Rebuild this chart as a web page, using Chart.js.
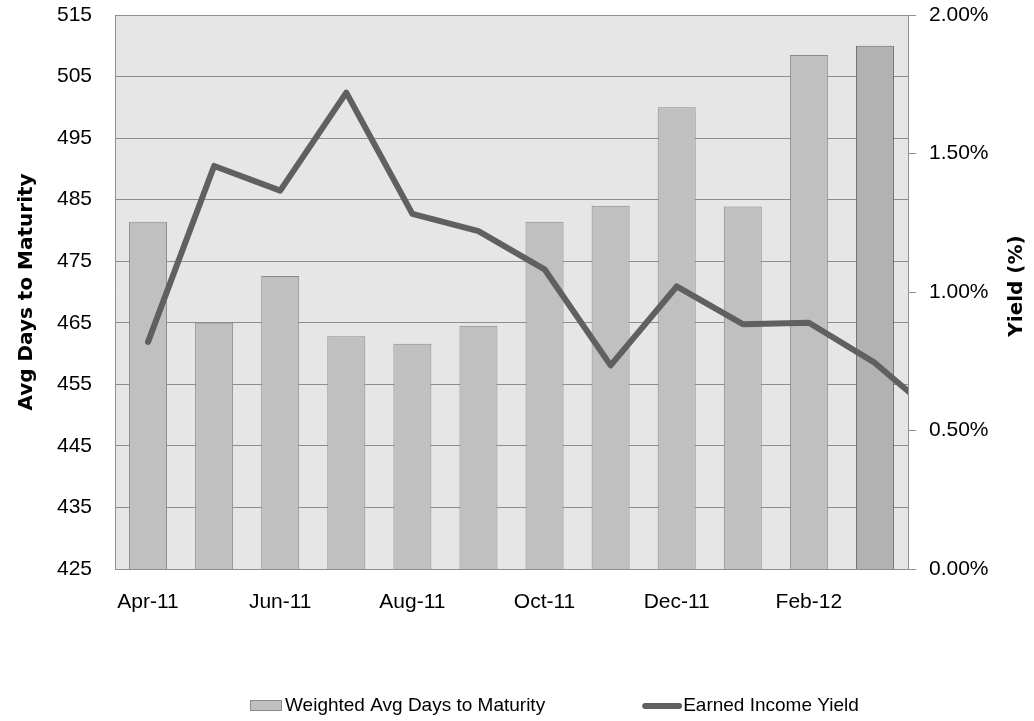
<!DOCTYPE html>
<html>
<head>
<meta charset="utf-8">
<script src="https://cdn.jsdelivr.net/npm/chart.js@4.4.1/dist/chart.umd.min.js"></script>
<style>
  html, body { margin: 0; padding: 0; background: #fff; }
  #wrap { width: 1034px; height: 721px; }
</style>
</head>
<body>
<div id="wrap"><canvas id="chart" width="1034" height="721"></canvas></div>
<script>
// months shown as bars
const categories = ['Apr-11', 'May-11', 'Jun-11', 'Jul-11', 'Aug-11', 'Sep-11',
                    'Oct-11', 'Nov-11', 'Dec-11', 'Jan-12', 'Feb-12', 'Mar-12'];
// weighted average days to maturity
const avgDays = [481.4, 465.0, 472.6, 462.8, 461.6, 464.5, 481.4, 484.0, 500.0, 483.9, 508.5, 510.0];
// earned income yield (%), the last one (Apr-12) runs past the plot edge and is clipped
const yieldMonths = categories.concat(['Apr-12']);
const yieldPct = [0.82, 1.455, 1.366, 1.72, 1.282, 1.22, 1.082, 0.735, 1.02, 0.884, 0.889, 0.744, 0.54];

const daysTicks = { min: 425, max: 515, step: 10 };
const yieldTicks = { min: 0, max: 2, step: 0.5 };

const gridGrey = '#8e8e8e';
const barFill = avgDays.map((v, i) => i === avgDays.length - 1 ? '#b2b2b2' : '#c0c0c0');
const barEdge = avgDays.map((v, i) => i === avgDays.length - 1 ? '#6a6a6a' : '#8a8a8a');
const lineGrey = '#606060';

const tickFont = { family: "'Liberation Sans', Arial, sans-serif", size: 21 };
const titleFont = { family: "'DejaVu Sans', sans-serif", size: 20, weight: 'bold' };

// grey plot background
const plotBg = {
  id: 'plotBg',
  beforeDraw(chart) {
    const a = chart.chartArea, ctx = chart.ctx;
    ctx.save();
    ctx.fillStyle = '#e6e6e6';
    ctx.fillRect(a.left, a.top, a.right - a.left, a.bottom - a.top);
    ctx.restore();
  }
};

// right title reads bottom-to-top like the left one, plus the legend row
const extras = {
  id: 'extras',
  afterDraw(chart) {
    const ctx = chart.ctx;
    const a = chart.chartArea;
    ctx.save();
    ctx.fillStyle = '#000';
    ctx.font = "bold 20px 'DejaVu Sans', sans-serif";
    ctx.textAlign = 'center';
    ctx.textBaseline = 'middle';
    ctx.translate(1017, (a.top + a.bottom) / 2 - 6);
    ctx.rotate(-Math.PI / 2);
    ctx.fillText('Yield (%)', 0, 0);
    ctx.restore();

    const ds = chart.data.datasets;
    const y = 706;
    ctx.save();
    ctx.font = "19px 'Liberation Sans', Arial, sans-serif";
    ctx.textBaseline = 'middle';
    let x = 250;
    // bar item
    ctx.fillStyle = '#c0c0c0';
    ctx.strokeStyle = '#8a8a8a';
    ctx.lineWidth = 1;
    ctx.fillRect(x, y - 6, 32, 11);
    ctx.strokeRect(x + 0.5, y - 5.5, 31, 10);
    x += 35;
    ctx.fillStyle = '#000';
    ctx.fillText(ds[0].label, x, y);
    x += ctx.measureText(ds[0].label).width + 97;
    // line item
    ctx.strokeStyle = lineGrey;
    ctx.lineWidth = 6;
    ctx.lineCap = 'round';
    ctx.beginPath();
    ctx.moveTo(x + 3, y);
    ctx.lineTo(x + 37, y);
    ctx.stroke();
    x += 41;
    ctx.fillText(ds[1].label, x, y);
    ctx.restore();
  }
};

new Chart(document.getElementById('chart'), {
  data: {
    labels: categories,
    datasets: [{
      type: 'bar',
      label: 'Weighted Avg Days to Maturity',
      data: avgDays,
      backgroundColor: barFill,
      borderColor: barEdge,
      borderWidth: 1,
      borderSkipped: false,
      grouped: false,
      categoryPercentage: 1,
      barPercentage: 0.575,
      xAxisID: 'x',
      yAxisID: 'y',
      order: 1
    }, {
      type: 'line',
      label: 'Earned Income Yield',
      data: yieldPct.map((v, i) => ({ x: i, y: v, month: yieldMonths[i] })),
      borderColor: lineGrey,
      backgroundColor: lineGrey,
      borderWidth: 6,
      borderCapStyle: 'round',
      borderJoinStyle: 'round',
      pointRadius: 0,
      tension: 0,
      clip: 0,
      xAxisID: 'xl',
      yAxisID: 'y1',
      order: 0
    }]
  },
  options: {
    responsive: false,
    animation: false,
    layout: { padding: 0 },
    plugins: {
      legend: { display: false },
      tooltip: { enabled: false }
    },
    scales: {
      x: {
        type: 'category',
        position: 'bottom',
        offset: true,
        grid: { display: false },
        border: { display: true, color: gridGrey, width: 1 },
        ticks: {
          autoSkip: false,
          maxRotation: 0,
          padding: 13,
          color: '#000',
          font: tickFont,
          callback: (v, i) => i % 2 === 0 ? categories[i] : ''
        },
        afterFit: s => { s.height = 152; }
      },
      xl: {
        type: 'linear',
        display: false,
        min: -0.5,
        max: 11.5
      },
      y: {
        position: 'left',
        min: daysTicks.min,
        max: daysTicks.max,
        ticks: { stepSize: daysTicks.step, padding: 23, color: '#000', font: tickFont },
        grid: { color: gridGrey, drawTicks: false, lineWidth: 1 },
        border: { display: true, color: gridGrey, width: 1 },
        title: {
          display: true,
          text: 'Avg Days to Maturity',
          color: '#000',
          font: titleFont,
          padding: { top: 15, bottom: 0 }
        },
        afterFit: s => { s.width = 115; s.paddingTop = 15; }
      },
      y1: {
        position: 'right',
        min: yieldTicks.min,
        max: yieldTicks.max,
        ticks: {
          stepSize: yieldTicks.step,
          padding: 13,
          color: '#000',
          font: tickFont,
          callback: v => v.toFixed(2) + '%'
        },
        grid: { drawOnChartArea: false, drawTicks: true, tickLength: 8, color: gridGrey },
        border: { display: true, color: gridGrey, width: 1 },
        afterFit: s => { s.width = 126; s.paddingTop = 15; }
      }
    }
  },
  plugins: [plotBg, extras]
});
</script>
</body>
</html>
